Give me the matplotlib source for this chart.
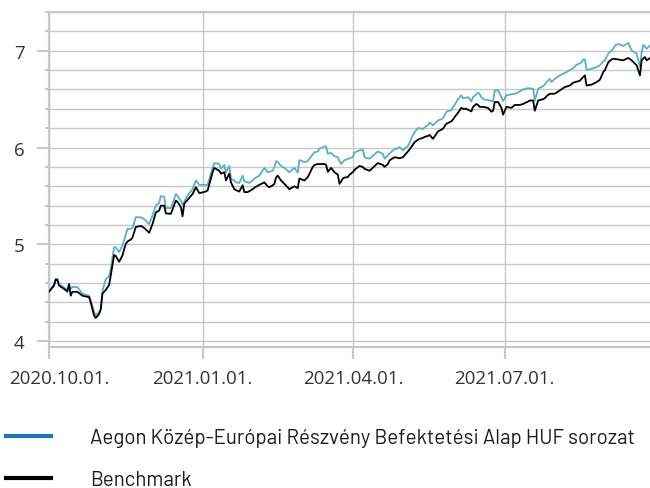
import matplotlib
matplotlib.use("Agg")
import matplotlib.pyplot as plt
import matplotlib.dates as mdates
from matplotlib.ticker import MultipleLocator, FixedLocator
from matplotlib.lines import Line2D
from matplotlib.transforms import ScaledTranslation
import pandas as pd

# Adatok
datumok = [
    "2020-10-01", "2020-10-04", "2020-10-05", "2020-10-06", "2020-10-07", "2020-10-10",
    "2020-10-12", "2020-10-13", "2020-10-14", "2020-10-15", "2020-10-18", "2020-10-21",
    "2020-10-25", "2020-10-26", "2020-10-28", "2020-10-29", "2020-10-31", "2020-11-01",
    "2020-11-02", "2020-11-04", "2020-11-06", "2020-11-07", "2020-11-09", "2020-11-10",
    "2020-11-12", "2020-11-14", "2020-11-15", "2020-11-16", "2020-11-17", "2020-11-19",
    "2020-11-20", "2020-11-22", "2020-11-25", "2020-11-27", "2020-11-30", "2020-12-02",
    "2020-12-04", "2020-12-06", "2020-12-07", "2020-12-09", "2020-12-10", "2020-12-13",
    "2020-12-16", "2020-12-17", "2020-12-19", "2020-12-20", "2020-12-21", "2020-12-23",
    "2020-12-26", "2020-12-28", "2020-12-30", "2021-01-02", "2021-01-04",
    "2021-01-07", "2021-01-08", "2021-01-11", "2021-01-12", "2021-01-14", "2021-01-15",
    "2021-01-17", "2021-01-18", "2021-01-20", "2021-01-21", "2021-01-23", "2021-01-25",
    "2021-01-26", "2021-01-28", "2021-01-29", "2021-01-31", "2021-02-01", "2021-02-04",
    "2021-02-07", "2021-02-09", "2021-02-10", "2021-02-12", "2021-02-13", "2021-02-14",
    "2021-02-15", "2021-02-17", "2021-02-19", "2021-02-22", "2021-02-25", "2021-02-27",
    "2021-02-28", "2021-03-03", "2021-03-05", "2021-03-06", "2021-03-08", "2021-03-09",
    "2021-03-11", "2021-03-12", "2021-03-15", "2021-03-16", "2021-03-17", "2021-03-19",
    "2021-03-21", "2021-03-23", "2021-03-24", "2021-03-25", "2021-03-26", "2021-03-27",
    "2021-03-29", "2021-03-30", "2021-04-01", "2021-04-02",
    "2021-04-05", "2021-04-07", "2021-04-08", "2021-04-11", "2021-04-16", "2021-04-19",
    "2021-04-20", "2021-04-22", "2021-04-23", "2021-04-25", "2021-04-26", "2021-04-29",
    "2021-05-01", "2021-05-02", "2021-05-04", "2021-05-05", "2021-05-07", "2021-05-08",
    "2021-05-10", "2021-05-11", "2021-05-13", "2021-05-14", "2021-05-16", "2021-05-17",
    "2021-05-19", "2021-05-22", "2021-05-25", "2021-05-27", "2021-05-30", "2021-05-31",
    "2021-06-01", "2021-06-03", "2021-06-05", "2021-06-06", "2021-06-08", "2021-06-09",
    "2021-06-11", "2021-06-12", "2021-06-14", "2021-06-15", "2021-06-16", "2021-06-17",
    "2021-06-18", "2021-06-21", "2021-06-23", "2021-06-24", "2021-06-25", "2021-06-27",
    "2021-06-29", "2021-06-30",
    "2021-07-02", "2021-07-05", "2021-07-07", "2021-07-09", "2021-07-10", "2021-07-12",
    "2021-07-13", "2021-07-15", "2021-07-16", "2021-07-18", "2021-07-19", "2021-07-21",
    "2021-07-24", "2021-07-25", "2021-07-26", "2021-07-28", "2021-07-29", "2021-07-31",
    "2021-08-03", "2021-08-06", "2021-08-09", "2021-08-11", "2021-08-13", "2021-08-15",
    "2021-08-16", "2021-08-17", "2021-08-18", "2021-08-19", "2021-08-22", "2021-08-25",
    "2021-08-27", "2021-08-29", "2021-08-30", "2021-09-01", "2021-09-03", "2021-09-04",
    "2021-09-05", "2021-09-07", "2021-09-10", "2021-09-11", "2021-09-13", "2021-09-15",
    "2021-09-18", "2021-09-20", "2021-09-21", "2021-09-22", "2021-09-23", "2021-09-24",
    "2021-09-26",
]

alap = [
    4.52, 4.58, 4.645, 4.645, 4.59, 4.555, 4.53, 4.59, 4.54, 4.56, 4.56, 4.49,
    4.47, 4.42, 4.30, 4.27, 4.30, 4.33, 4.52, 4.64, 4.67, 4.75, 4.97, 4.97,
    4.92, 4.99, 5.04, 5.10, 5.16, 5.16, 5.17, 5.28, 5.28, 5.26, 5.21, 5.30,
    5.40, 5.43, 5.50, 5.49, 5.375, 5.375, 5.52, 5.50, 5.45, 5.41, 5.44, 5.505,
    5.57, 5.66, 5.615, 5.615, 5.615,
    5.79, 5.84, 5.83, 5.78, 5.82, 5.745, 5.81, 5.68, 5.66, 5.64, 5.635, 5.71,
    5.65, 5.64, 5.635, 5.66, 5.68, 5.71, 5.79, 5.745, 5.75, 5.76, 5.80, 5.86,
    5.85, 5.81, 5.79, 5.745, 5.79, 5.74, 5.87, 5.85, 5.86, 5.885, 5.93, 5.95,
    5.96, 5.99, 6.01, 6.015, 5.935, 5.945, 5.91, 5.90, 5.86, 5.83, 5.85, 5.87,
    5.88, 5.89, 5.90, 5.95,
    5.97, 5.98, 5.90, 5.885, 5.96, 5.935, 5.885, 5.92, 5.94, 5.97, 5.98, 6.005,
    5.97, 5.99, 6.015, 6.05, 6.13, 6.16, 6.20, 6.20, 6.19, 6.21, 6.23, 6.26,
    6.23, 6.28, 6.30, 6.37, 6.385, 6.42, 6.44, 6.50, 6.54, 6.51, 6.515, 6.52,
    6.476, 6.52, 6.55, 6.57, 6.55, 6.52, 6.50, 6.49, 6.48, 6.476, 6.59, 6.59,
    6.52, 6.48,
    6.54, 6.55, 6.555, 6.57, 6.58, 6.60, 6.605, 6.614, 6.61, 6.607, 6.486, 6.607,
    6.635, 6.65, 6.676, 6.71, 6.676, 6.71, 6.745, 6.77, 6.80, 6.82, 6.855, 6.87,
    6.88, 6.91, 6.91, 6.80, 6.814, 6.83, 6.85, 6.89, 6.90, 6.97, 7.003, 7.02,
    7.055, 7.07, 7.05, 7.06, 7.08, 7.003, 6.97, 6.83, 6.986, 7.06, 7.04, 7.02,
    7.055,
]

benchmark = [
    4.51, 4.575, 4.634, 4.634, 4.575, 4.54, 4.513, 4.59, 4.47, 4.51, 4.51, 4.47,
    4.455, 4.40, 4.265, 4.24, 4.28, 4.33, 4.49, 4.53, 4.58, 4.68, 4.89, 4.88,
    4.82, 4.885, 4.95, 5.005, 5.03, 5.05, 5.07, 5.18, 5.19, 5.17, 5.12, 5.21,
    5.33, 5.35, 5.40, 5.40, 5.32, 5.315, 5.453, 5.437, 5.385, 5.29, 5.42, 5.46,
    5.52, 5.59, 5.53, 5.54, 5.556,
    5.745, 5.79, 5.76, 5.73, 5.745, 5.66, 5.73, 5.64, 5.57, 5.56, 5.545, 5.61,
    5.54, 5.54, 5.55, 5.57, 5.585, 5.615, 5.64, 5.60, 5.59, 5.61, 5.625, 5.69,
    5.71, 5.66, 5.625, 5.57, 5.60, 5.58, 5.68, 5.66, 5.695, 5.73, 5.80, 5.82,
    5.83, 5.83, 5.83, 5.82, 5.75, 5.79, 5.745, 5.72, 5.625, 5.65, 5.68, 5.69,
    5.695, 5.72, 5.745, 5.77,
    5.81, 5.80, 5.78, 5.76, 5.84, 5.82, 5.80, 5.83, 5.867, 5.89, 5.90, 5.89,
    5.90, 5.92, 5.96, 5.98, 6.03, 6.056, 6.08, 6.09, 6.10, 6.11, 6.12, 6.13,
    6.09, 6.166, 6.194, 6.246, 6.27, 6.29, 6.315, 6.36, 6.41, 6.40, 6.40, 6.39,
    6.373, 6.42, 6.45, 6.44, 6.42, 6.42, 6.42, 6.41, 6.37, 6.38, 6.47, 6.47,
    6.41, 6.34,
    6.42, 6.41, 6.44, 6.44, 6.44, 6.45, 6.46, 6.475, 6.486, 6.486, 6.38, 6.486,
    6.50, 6.51, 6.53, 6.556, 6.556, 6.556, 6.59, 6.625, 6.64, 6.67, 6.68, 6.69,
    6.71, 6.73, 6.745, 6.64, 6.65, 6.676, 6.70, 6.78, 6.80, 6.88, 6.91, 6.917,
    6.915, 6.91, 6.90, 6.91, 6.925, 6.90, 6.85, 6.745, 6.90, 6.92, 6.935, 6.90,
    6.925,
]

tick_datumok = ["2020-10-01", "2021-01-01", "2021-04-01", "2021-07-01"]
tick_cimkek = ["2020.10.01.", "2021.01.01.", "2021.04.01.", "2021.07.01."]
nev_alap = "Aegon Közép-Európai Részvény Befektetési Alap HUF sorozat"
nev_bm = "Benchmark"

x = pd.to_datetime(datumok)
szurke = "#c8c8c8"

fig = plt.figure(figsize=(6.5, 4.89), dpi=100)
ax = fig.add_axes([49 / 650, 1 - 348 / 489, 1 - 49 / 650, (348 - 13) / 489])

ax.plot(x, alap, color="#5aafc9", lw=1.3, zorder=3)
ax.plot(x, benchmark, color="black", lw=1.3, zorder=4)

ax.set_xlim(pd.Timestamp("2020-10-01"), pd.Timestamp("2021-09-26"))
ax.set_ylim(3.94, 7.4)

ax.xaxis.set_major_locator(FixedLocator(mdates.date2num(pd.to_datetime(tick_datumok))))
ax.set_xticklabels(tick_cimkek)
ax.yaxis.set_major_locator(MultipleLocator(1))
ax.yaxis.set_minor_locator(MultipleLocator(0.2))

ax.grid(True, which="both", axis="y", color=szurke, lw=1.0, zorder=0)
ax.grid(True, which="major", axis="x", color=szurke, lw=1.0, zorder=0)

for s in ["left", "top", "bottom"]:
    ax.spines[s].set_color(szurke)
    ax.spines[s].set_linewidth(1.6)
ax.spines["right"].set_visible(False)

ax.tick_params(axis="both", which="major", length=8.6, width=1.5, color=szurke,
               labelcolor="#333333", labelsize=13.5)
ax.tick_params(axis="y", which="major", pad=9)
ax.tick_params(axis="x", which="major", pad=7)
ax.tick_params(axis="y", which="minor", length=3, width=1.5, color=szurke)
for lab in ax.get_xticklabels() + ax.get_yticklabels():
    lab.set_fontfamily(["Open Sans", "DejaVu Sans"])

# első dátumfelirat kicsit jobbra tolva, mint az eredetin
elso = ax.get_xticklabels()[0]
elso.set_transform(elso.get_transform() + ScaledTranslation(0.10, 0, fig.dpi_scale_trans))

# Jelmagyarázat
kezelok = [Line2D([], [], color="#1f75bd", lw=3), Line2D([], [], color="black", lw=3)]
fig.legend(kezelok, [nev_alap, nev_bm], loc="upper left",
           bbox_to_anchor=(0.0, 1 - 423 / 489), frameon=False,
           prop={"family": ["Barlow", "DejaVu Sans"], "size": 14.75},
           handlelength=2.2, handletextpad=1.9, labelspacing=1.12,
           borderaxespad=0, borderpad=0.3, labelcolor="#1a1a1a")

fig.savefig("out.png", dpi=100)
